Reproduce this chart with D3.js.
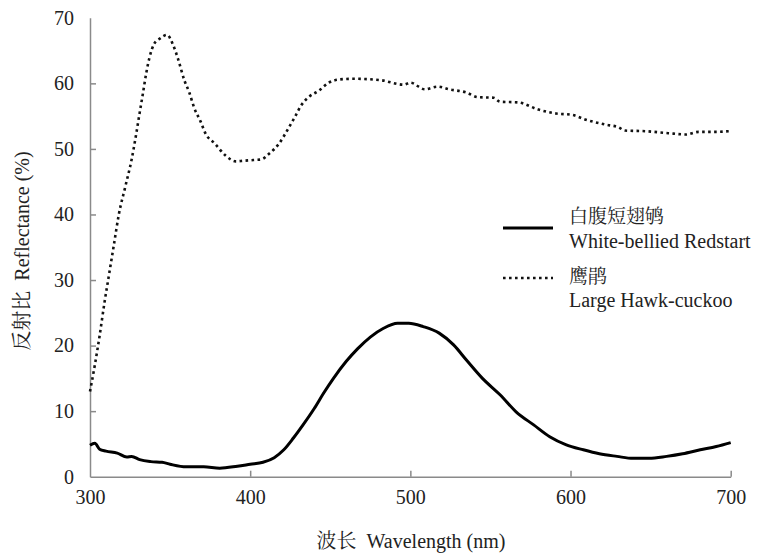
<!DOCTYPE html>
<html><head><meta charset="utf-8">
<script src="https://cdn.jsdelivr.net/npm/d3@7/dist/d3.min.js"></script>
<style>
body{margin:0;background:#fff}svg{display:block}
html body svg#c text, html body svg#c tspan{font-family:"Liberation Serif",serif !important;}
html body svg#c text.cjk, html body svg#c tspan.cjk{font-family:"Noto Serif CJK SC","Liberation Serif",serif !important;}
</style>
</head><body>
<svg id="c" width="762" height="554"></svg>
<script>
// Data
const redstartWl = [300,303,306,310,317,323,326,331,338,345,350,360,371,381,392,400,408,415,421,427,433,440,446,452,460,467,475,483,492,499,508,518,527,535,545,556,566,577,587,597,608,618,629,639,649,660,670,681,691,700];
const redstartR  = [4.8,5.1,4.2,3.9,3.6,3.0,3.1,2.6,2.3,2.2,1.9,1.5,1.5,1.3,1.6,1.9,2.2,2.9,4.1,5.9,7.9,10.4,12.8,15.0,17.6,19.5,21.3,22.6,23.4,23.4,22.9,21.9,20.1,17.8,15.0,12.5,9.9,7.9,6.1,4.9,4.1,3.5,3.1,2.8,2.8,3.1,3.5,4.1,4.6,5.2];
const cuckooWl = [300,303,306,309,312,315,318,322,326,329,331,333,335,337,340,344,348,352,355,359,362,365,369,372,378,385,391,396,402,407,412,418,424,428,432,437,443,449,456,464,481,496,500,509,517,524,535,542,552,556,567,580,591,601,609,622,630,634,647,661,672,680,690,699];
const cuckooR  = [13,17,21.5,26.5,31,35.5,40,44.2,48.4,52.5,55.5,58.4,61.4,63.8,66,66.9,67.4,65.8,63.7,60.4,58.6,56.3,54.2,52.4,50.8,48.9,48.1,48.2,48.3,48.4,49.3,50.8,53.2,54.9,56.7,58,58.9,60.1,60.6,60.7,60.5,59.8,60.1,59.1,59.5,59.1,58.6,57.9,57.8,57.2,57.1,56,55.4,55.2,54.5,53.7,53.3,52.8,52.7,52.4,52.2,52.6,52.6,52.7];
const xTicks = [300,400,500,600,700];
const yTicks = [0,10,20,30,40,50,60,70];
const legendCn = ["白腹短翅鸲","鹰鹃"];
const legendEn = ["White-bellied Redstart","Large Hawk-cuckoo"];
const xTitle = ["波长","Wavelength (nm)"];
const yTitle = ["反射比","Reflectance (%)"];

const svg = d3.select("#c");
const x = d3.scaleLinear().domain([300,700]).range([90,730.7]);
const y = d3.scaleLinear().domain([0,70]).range([476.7,17.8]);
const axisColor = "#8a8a8a";

// axes
const gx = svg.append("g").attr("transform",`translate(0,${y(0)})`)
  .call(d3.axisBottom(x).tickValues(xTicks).tickSize(-6).tickSizeOuter(0).tickPadding(13));
const gy = svg.append("g").attr("transform",`translate(${x(300)},0)`)
  .call(d3.axisLeft(y).tickValues(yTicks).tickSize(-6).tickSizeOuter(0).tickPadding(16));
[gx,gy].forEach(g=>{
  g.attr("font-family",null).attr("font-size",20);
  g.select(".domain").attr("stroke",axisColor).attr("stroke-width",1.5);
  g.selectAll(".tick line").attr("stroke",axisColor).attr("stroke-width",1.5);
  g.selectAll(".tick text").attr("fill","#222").attr("font-size",20);
});
gy.selectAll(".tick").filter(d=>d===0||d===70).select("line").remove();
gx.selectAll(".tick").filter(d=>d===300).select("line").remove();

// lines
const lineR = d3.line().x((d,i)=>x(redstartWl[i])).y(d=>y(d)).curve(d3.curveMonotoneX);
const lineC = d3.line().x((d,i)=>x(cuckooWl[i])).y(d=>y(d)).curve(d3.curveMonotoneX);
svg.append("path").attr("d",lineR(redstartR)).attr("fill","none").attr("stroke","#000").attr("stroke-width",3);
svg.append("path").attr("d",lineC(cuckooR)).attr("fill","none").attr("stroke","#111").attr("stroke-width",2.6).attr("stroke-dasharray","2.6,3.4");

// legend
const lg = svg.append("g");
lg.append("line").attr("x1",503).attr("x2",553).attr("y1",228).attr("y2",228).attr("stroke","#000").attr("stroke-width",3);
lg.append("line").attr("x1",503).attr("x2",553).attr("y1",278).attr("y2",278).attr("stroke","#111").attr("stroke-width",2.6).attr("stroke-dasharray","2.6,3.4");
const ly = [[223,248],[283,307]];
legendCn.forEach((t,i)=>{
  lg.append("text").attr("class","cjk").attr("x",569).attr("y",ly[i][0]).text(t).attr("fill","#222").attr("font-size",19);
  lg.append("text").attr("x",569).attr("y",ly[i][1]).text(legendEn[i]).attr("fill","#222").attr("font-size",20);
});

// titles
const xt = svg.append("text").attr("x",411).attr("y",548).attr("text-anchor","middle").attr("fill","#222").attr("font-size",20);
xt.append("tspan").attr("class","cjk").text(xTitle[0]);
xt.append("tspan").attr("dx",10).text(xTitle[1]);
const yt = svg.append("text").attr("transform","translate(29,251) rotate(-90)").attr("text-anchor","middle").attr("fill","#222").attr("font-size",20);
yt.append("tspan").attr("class","cjk").text(yTitle[0]);
yt.append("tspan").attr("dx",10).text(yTitle[1]);
</script>
</body></html>
